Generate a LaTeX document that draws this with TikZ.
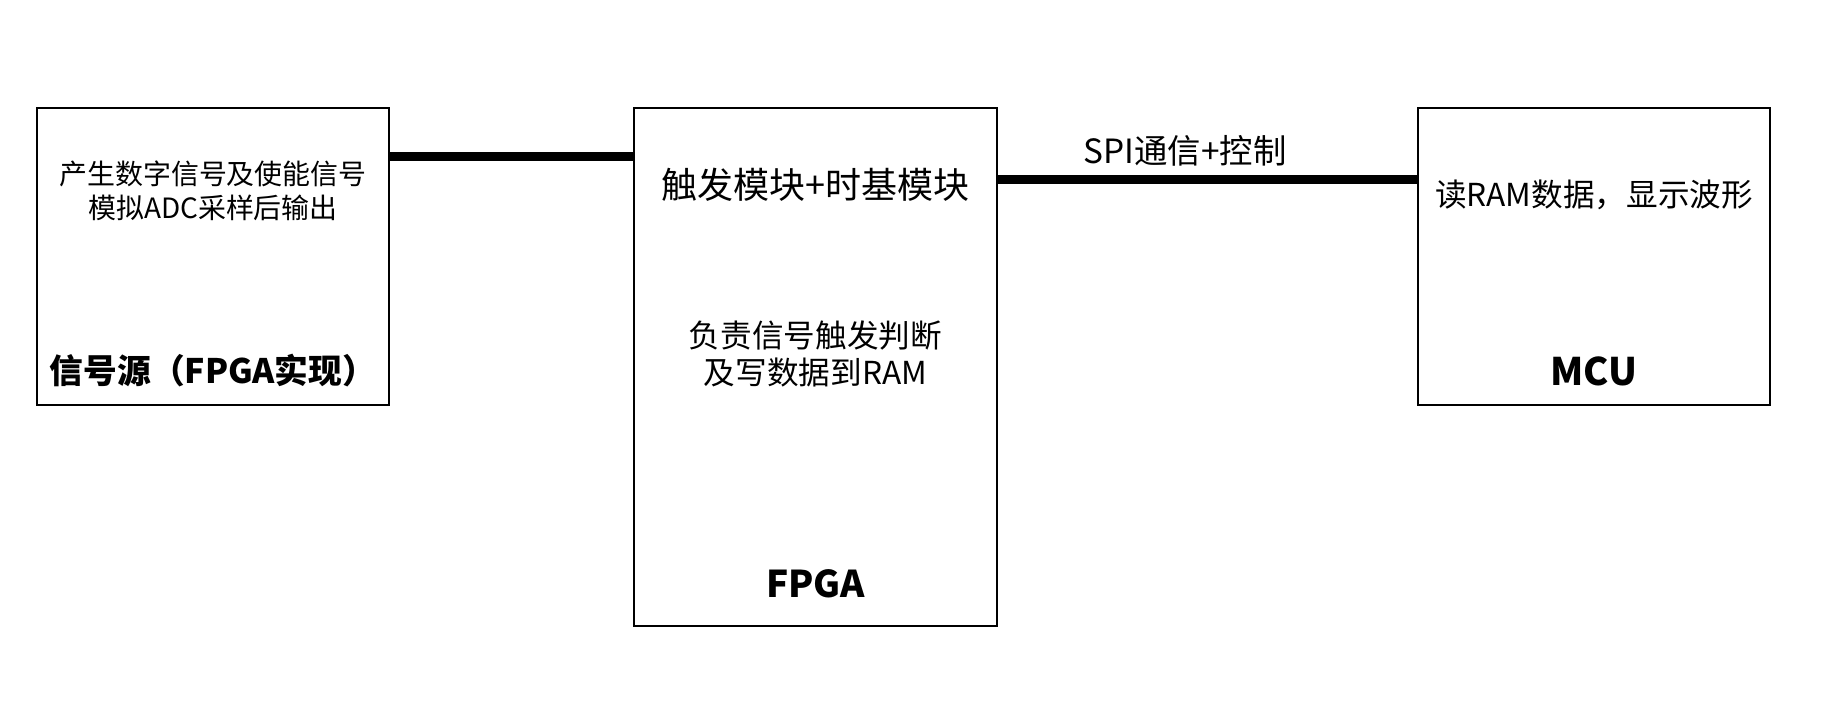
\documentclass[tikz,border=0pt]{standalone}
\usepackage{fontspec}
\setmainfont{Noto Sans CJK SC}
\usepackage{tikz}
\usetikzlibrary{positioning,calc}
\tikzset{
    blk/.style={rectangle, draw=black, line width=1.1pt, inner sep=0pt,
                minimum width=#1, minimum height=5.94cm},
    tallblk/.style={rectangle, draw=black, line width=1.1pt, inner sep=0pt,
                minimum width=7.26cm, minimum height=10.36cm},
    link/.style={line width=5pt},
    lbl/.style={align=center, inner sep=0pt},
    ttl/.style={font=\bfseries, inner sep=0pt},
}

\begin{document}
\begin{tikzpicture}
    \useasboundingbox (0,0) rectangle (36.54,14.3);
    \node[blk=7.04cm] (src)  at (4.26,9.17)  {};
    \node[tallblk]    (fpga) at (16.31,6.96) {};
    \node[blk=7.04cm] (mcu)  at (31.88,9.17) {};

    % text inside the boxes
    \node[lbl, font=\fontsize{15.9}{19.3}\selectfont]
        (srcdesc) at ([yshift=-1.68cm]src.north) {产生数字信号及使能信号\\模拟ADC采样后输出};
    \node[ttl, font=\fontsize{19.2}{23}\bfseries\selectfont]
        (srcttl) at ([yshift=0.7cm]src.south) {信号源（FPGA实现）};
    \node[lbl, font=\fontsize{20.5}{24}\selectfont]
        (fpgamod) at ([yshift=-1.56cm]fpga.north) {触发模块+时基模块};
    \node[lbl, font=\fontsize{18}{21}\selectfont]
        (fpgadesc) at ([yshift=-4.93cm]fpga.north) {负责信号触发判断\\及写数据到RAM};
    \node[ttl, font=\fontsize{21}{25}\bfseries\selectfont]
        (fpgattl) at ([yshift=0.86cm]fpga.south) {FPGA};
    \node[lbl, font=\fontsize{18}{21}\selectfont]
        (mcudesc) at ([yshift=-1.76cm]mcu.north) {读RAM数据，显示波形};
    \node[ttl, font=\fontsize{21.6}{25}\bfseries\selectfont]
        (mcuttl) at ([yshift=0.7cm]mcu.south) {MCU};

    % links
    \draw[link] ([yshift=-0.99cm]src.north east) -- ([yshift=-0.99cm]fpga.north west);
    \draw[link] ([yshift=-1.45cm]fpga.north east) -- ([yshift=-1.45cm]mcu.north west)
        node[midway, above=0.17cm, xshift=-0.45cm, font=\fontsize{19}{22}\selectfont, inner sep=0pt] (spi) {SPI通信+控制};
\end{tikzpicture}
\end{document}
